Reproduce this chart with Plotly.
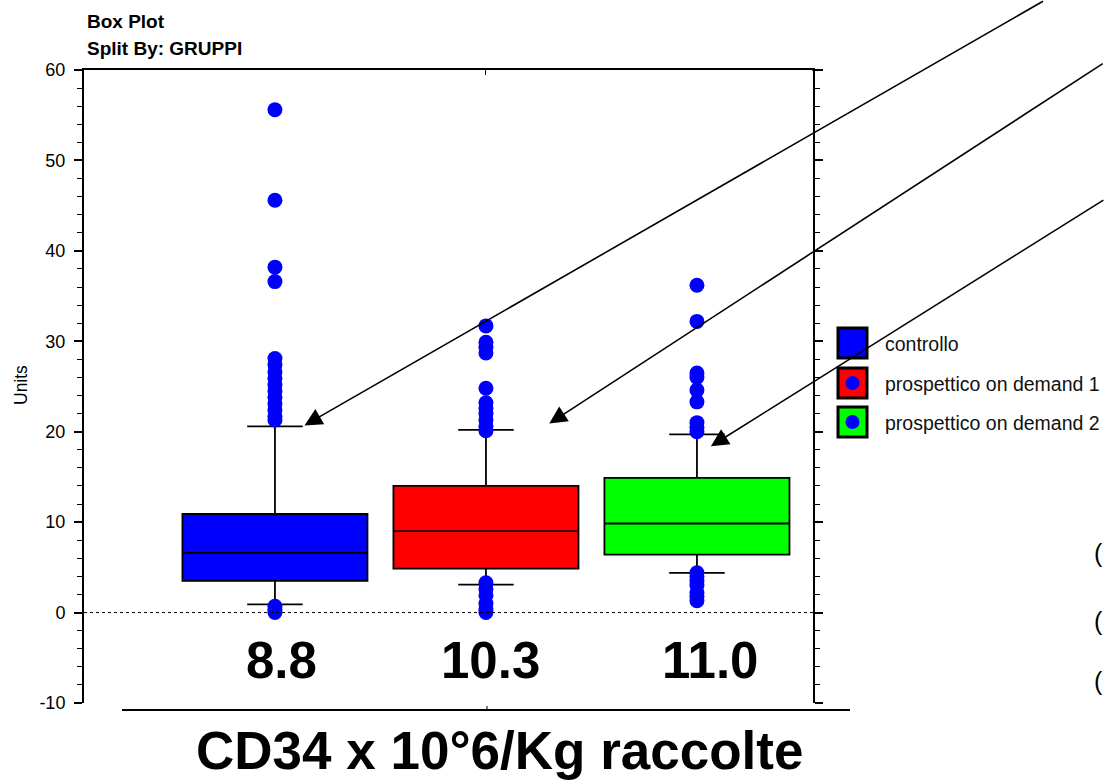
import plotly.graph_objects as go

# ---------------- data ----------------
groups = ["controllo", "prospettico on demand 1", "prospettico on demand 2"]
group_pos = [0, 1, 2]
box_colors = ["#0000FF", "#FF0000", "#00FF00"]

q1 = [3.5, 4.85, 6.4]
median = [6.6, 9.0, 9.85]
q3 = [10.9, 14.0, 14.9]
lower_fence = [0.9, 3.1, 4.4]
upper_fence = [20.6, 20.2, 19.7]

outliers_controllo = [55.6, 45.6, 38.2, 36.6, 28.1, 27.4, 26.6, 25.9, 25.2, 24.5,
                      23.8, 23.1, 22.4, 21.7, 21.3, 0.7, 0.3, 0.0]
outliers_demand1 = [31.7, 29.9, 29.3, 28.7, 24.8, 23.2, 22.6, 22.0, 21.3, 20.6,
                    20.1, 3.3, 2.6, 1.9, 1.0, 0.4, 0.0]
outliers_demand2 = [36.2, 32.2, 26.5, 26.0, 24.6, 23.3, 21.0, 20.5, 20.0,
                    4.4, 4.0, 3.5, 3.0, 2.2, 1.8, 1.3]
outliers = [outliers_controllo, outliers_demand1, outliers_demand2]

mean_labels = ["8.8", "10.3", "11.0"]
mean_label_x = [0.03, 1.02, 2.06]

y_ticks = [-10, 0, 10, 20, 30, 40, 50, 60]
y_tick_text = ["-10", "0", "10", "20", "30", "40", "50", "60"]
y_range = [-10, 60]
x_range = [-0.905, 2.55]

# arrow tips (data coords) and tail offsets (pixels)
arrow_tips = [(0.14, 20.7), (1.30, 20.9), (2.066, 18.4)]
arrow_offsets = [(740, -425), (555, -361), (394, -247)]

# ---------------- layout helpers ----------------
W, H = 1106, 784
PX0, PX1, PY0, PY1 = 84, 813, 70, 703  # plot area in pixels


def px(xp):
    return (xp - PX0) / (PX1 - PX0)


def py(yp):
    return (PY1 - yp) / (PY1 - PY0)


FONT = "Arial, Liberation Sans, sans-serif"

fig = go.Figure()

for i in range(3):
    fig.add_trace(go.Box(
        x=[group_pos[i]], q1=[q1[i]], median=[median[i]], q3=[q3[i]],
        lowerfence=[lower_fence[i]], upperfence=[upper_fence[i]],
        width=0.877, whiskerwidth=0.3, fillcolor=box_colors[i],
        line=dict(color="black", width=1.8), boxpoints=False,
        showlegend=False, hoverinfo="skip", name=groups[i]))

for i in range(3):
    fig.add_trace(go.Scatter(
        x=[group_pos[i]] * len(outliers[i]), y=outliers[i], mode="markers",
        marker=dict(color="#0000FF", size=15, line=dict(width=0)),
        showlegend=False, hoverinfo="skip", cliponaxis=False))

# invisible trace for right axis
fig.add_trace(go.Scatter(x=[None], y=[None], yaxis="y2", showlegend=False,
                         hoverinfo="skip"))

shapes = []
annotations = []

# zero dotted line
shapes.append(dict(type="line", xref="paper", yref="y", x0=0, x1=1, y0=0, y1=0,
                   line=dict(color="black", width=1, dash="dot")))
# top line extension to the right-axis ticks
shapes.append(dict(type="line", xref="paper", yref="paper", x0=px(812), x1=px(819),
                   y0=1, y1=1, line=dict(color="black", width=1.5)))
# bottom separate line and its tick
shapes.append(dict(type="line", xref="paper", yref="paper", x0=px(122), x1=px(850),
                   y0=py(710), y1=py(710), line=dict(color="black", width=2)))
shapes.append(dict(type="line", xref="paper", yref="paper", x0=px(487), x1=px(487),
                   y0=py(710), y1=py(706), line=dict(color="black", width=1)))

# legend (custom)
leg_tops = [328, 368, 407]
for i in range(3):
    t = leg_tops[i]
    shapes.append(dict(type="rect", xref="paper", yref="paper",
                       x0=px(838), x1=px(867), y0=py(t + 30), y1=py(t),
                       fillcolor=box_colors[i], line=dict(color="black", width=3)))
    if i > 0:
        cx, cy = 852.5, t + 15
        shapes.append(dict(type="circle", xref="paper", yref="paper",
                           x0=px(cx - 7), x1=px(cx + 7), y0=py(cy + 7), y1=py(cy - 7),
                           fillcolor="#0000FF", line=dict(width=0)))
    annotations.append(dict(text=groups[i], xref="paper", yref="paper",
                            x=px(883), y=py(t + 16), xanchor="left", yanchor="middle",
                            showarrow=False, font=dict(family=FONT, size=19.5, color="#111")))

# titles
annotations.append(dict(text="<b>Box Plot</b>", xref="paper", yref="paper",
                        x=px(85), y=py(21), xanchor="left", yanchor="middle",
                        showarrow=False, font=dict(family=FONT, size=19, color="black")))
annotations.append(dict(text="<b>Split By: GRUPPI</b>", xref="paper", yref="paper",
                        x=px(85), y=py(49), xanchor="left", yanchor="middle",
                        showarrow=False, font=dict(family=FONT, size=19, color="black")))
annotations.append(dict(text="Units", xref="paper", yref="paper", textangle=-90,
                        x=px(21), y=py(385), xanchor="center", yanchor="middle",
                        showarrow=False, font=dict(family=FONT, size=17.5, color="black")))

# mean labels
for i in range(3):
    annotations.append(dict(text="<b>" + mean_labels[i] + "</b>", xref="x", yref="paper",
                            x=mean_label_x[i], y=py(660), xanchor="center",
                            yanchor="middle", showarrow=False,
                            font=dict(family=FONT, size=51, color="black")))

annotations.append(dict(text="<b>CD34 x 10°6/Kg raccolte</b>", xref="paper", yref="paper",
                        x=px(499), y=py(751), xanchor="center", yanchor="middle",
                        showarrow=False, font=dict(family=FONT, size=53, color="black")))

# partially visible parentheses at right edge
for yc in [553, 621, 681]:
    annotations.append(dict(text="(", xref="paper", yref="paper", x=px(1092), y=py(yc),
                            xanchor="left", yanchor="middle", showarrow=False,
                            font=dict(family=FONT, size=25, color="black")))

# arrows
for (tx, ty), (ax, ay) in zip(arrow_tips, arrow_offsets):
    annotations.append(dict(text="", xref="x", yref="y", x=tx, y=ty, ax=ax, ay=ay,
                            showarrow=True, arrowhead=2, arrowsize=2.2,
                            arrowwidth=1.6, arrowcolor="black", standoff=0))

fig.update_layout(
    width=W, height=H,
    margin=dict(l=PX0, r=W - PX1, t=PY0, b=H - PY1, pad=0),
    paper_bgcolor="white", plot_bgcolor="white",
    showlegend=False,
    xaxis=dict(range=x_range, side="top", showline=True, linecolor="black",
               linewidth=1.5, ticks="inside", tickvals=[1], ticklen=5,
               tickcolor="black", showticklabels=False, showgrid=False,
               zeroline=False, fixedrange=True),
    yaxis=dict(range=y_range, tickvals=y_ticks, ticktext=y_tick_text, showline=True,
               linecolor="black", linewidth=2, ticks="outside", ticklen=8,
               tickwidth=1.5, tickcolor="black", showgrid=False, zeroline=False,
               tickfont=dict(family=FONT, size=18, color="black"),
               ticklabelstandoff=5,
               minor=dict(dtick=2, ticks="outside", ticklen=5, tickcolor="black",
                          tickwidth=1.2, showgrid=False)),
    yaxis2=dict(range=y_range, overlaying="y", side="right", tickvals=y_ticks,
                showline=True, linecolor="black", linewidth=2, ticks="outside",
                ticklen=8, tickwidth=1.5, tickcolor="black", showticklabels=False,
                showgrid=False, zeroline=False,
                minor=dict(dtick=2, ticks="outside", ticklen=5, tickcolor="black",
                           tickwidth=1.2, showgrid=False)),
    shapes=shapes, annotations=annotations,
)

fig.write_html("out.html")
